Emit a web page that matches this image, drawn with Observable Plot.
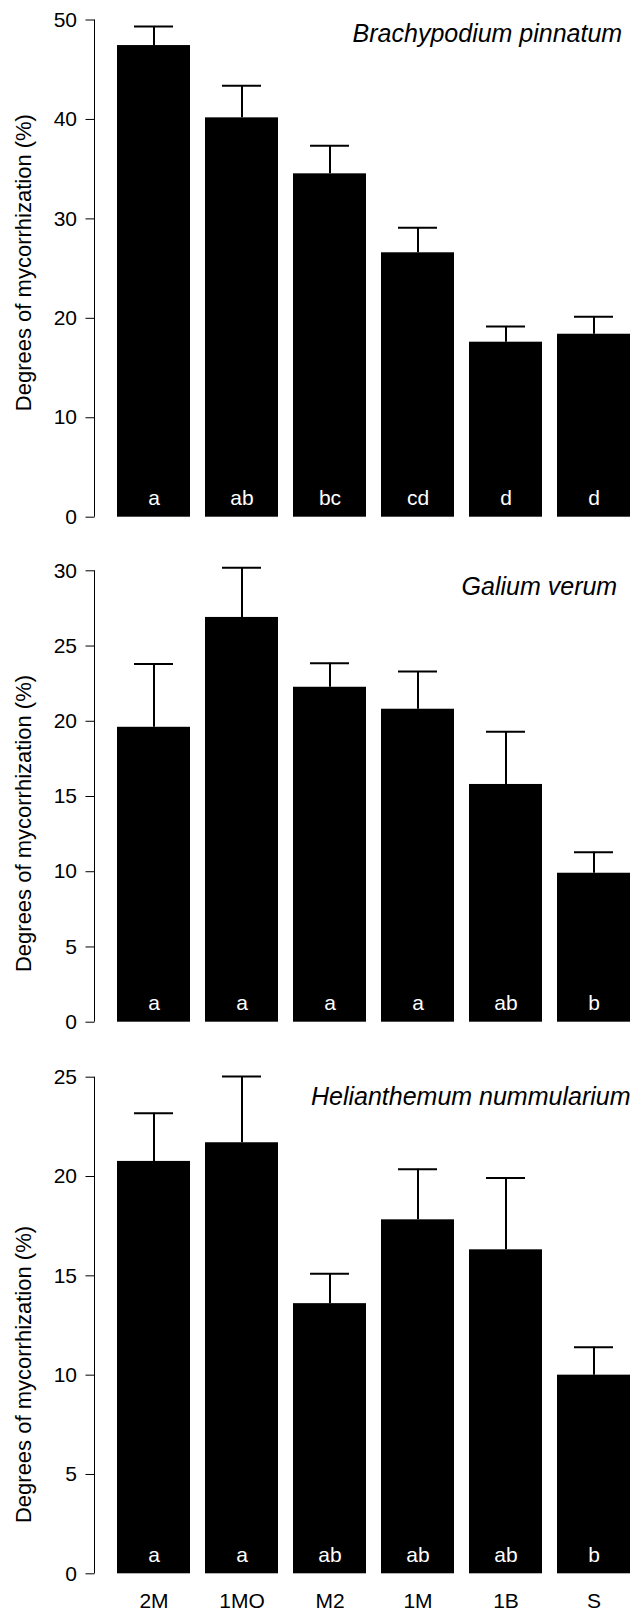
<!DOCTYPE html>
<html>
<head>
<meta charset="utf-8">
<script src="https://cdn.jsdelivr.net/npm/d3@7"></script>
<script src="https://cdn.jsdelivr.net/npm/@observablehq/plot@0.6"></script>
<style>
  html, body { margin: 0; padding: 0; background: white; }
  #chart svg { display: block; }
</style>
</head>
<body>
<div id="chart"></div>
<script>
// Treatments (x categories)
const groups = ["2M", "1MO", "M2", "1M", "1B", "S"];

// Brachypodium pinnatum
const brachyMean = [47.43, 40.16, 34.53, 26.59, 17.60, 18.40];
const brachySE = [1.92, 3.22, 2.82, 2.51, 1.58, 1.75];
const brachyLetters = ["a", "ab", "bc", "cd", "d", "d"];
const brachyTicks = [0, 10, 20, 30, 40, 50];

// Galium verum
const galiumMean = [19.6, 26.9, 22.26, 20.8, 15.8, 9.9];
const galiumSE = [4.2, 3.3, 1.6, 2.5, 3.5, 1.4];
const galiumLetters = ["a", "a", "a", "a", "ab", "b"];
const galiumTicks = [0, 5, 10, 15, 20, 25, 30];

// Helianthemum nummularium
const helianMean = [20.76, 21.70, 13.6, 17.82, 16.31, 10.0];
const helianSE = [2.43, 3.34, 1.5, 2.55, 3.61, 1.4];
const helianLetters = ["a", "a", "ab", "ab", "ab", "b"];
const helianTicks = [0, 5, 10, 15, 20, 25];

const yTitle = "Degrees of mycorrhization (%)";
const FONT = "'Liberation Sans', Arial, Helvetica, sans-serif";

function yAxisLine(ticks) {
  return (index, scales, values, dimensions) => {
    const x = dimensions.marginLeft;
    const line = document.createElementNS("http://www.w3.org/2000/svg", "line");
    line.setAttribute("x1", x);
    line.setAttribute("x2", x);
    line.setAttribute("y1", scales.y(ticks[0]));
    line.setAttribute("y2", scales.y(ticks[ticks.length - 1]));
    line.setAttribute("stroke", "black");
    line.setAttribute("stroke-width", 1);
    return line;
  };
}

function panel(o) {
  const data = groups.map((g, i) => ({
    group: g, mean: o.mean[i], upper: o.mean[i] + o.se[i], letter: o.letters[i]
  }));
  const marks = [
    Plot.barY(data, {x: "group", y: "mean", fill: "black"}),
    Plot.ruleX(data, {x: "group", y1: "mean", y2: "upper", stroke: "black", strokeWidth: 2}),
    Plot.tickY(data, {x: "group", y: "upper", stroke: "black", strokeWidth: 2, insetLeft: 17, insetRight: 17}),
    Plot.text(data, {x: "group", y: 0, text: "letter", fill: "white", dy: -19, lineAnchor: "middle", fontSize: "21px"}),
    Plot.axisY({ticks: o.ticks, tickSize: 9, tickPadding: 9, tickFormat: d => String(d), fontSize: "21px", label: null}),
    yAxisLine(o.ticks),
    Plot.text([o.title], {frameAnchor: "top-right", dx: o.titleDx, dy: o.titleDy, fontStyle: "italic", fontSize: "25px", textAnchor: "end", lineAnchor: "middle"}),
    Plot.text([yTitle], {frameAnchor: "left", dx: -71.5, dy: o.ylabDy, rotate: -90, fontSize: "22px", textAnchor: "middle", lineAnchor: "middle"})
  ];
  if (o.showX) marks.push(Plot.axisX({tickSize: 0, tickPadding: 19, fontSize: "21px", label: null}));
  return Plot.plot({
    width: 633,
    height: o.height,
    marginLeft: 94.5,
    marginRight: 0,
    marginTop: o.marginTop,
    marginBottom: o.marginBottom,
    style: {fontFamily: FONT, fontSize: "21px", background: "white", color: "black", overflow: "visible"},
    x: Object.assign({domain: groups, range: [115, 632.6], paddingInner: 0.1667, paddingOuter: 0, label: null}, o.showX ? {} : {axis: null}),
    y: {domain: [0, o.ticks[o.ticks.length - 1]], label: null},
    marks
  });
}

const chart = document.getElementById("chart");
chart.append(panel({
  mean: brachyMean, se: brachySE, letters: brachyLetters, ticks: brachyTicks,
  height: 545, marginTop: 19.5, marginBottom: 28.3,
  title: "Brachypodium pinnatum", titleDx: -11.3, titleDy: 13.8, ylabDy: -6, showX: false
}));
chart.append(panel({
  mean: galiumMean, se: galiumSE, letters: galiumLetters, ticks: galiumTicks,
  height: 515, marginTop: 25.3, marginBottom: 38.3,
  title: "Galium verum", titleDx: -16.3, titleDy: 16.4, ylabDy: 27, showX: false
}));
chart.append(panel({
  mean: helianMean, se: helianSE, letters: helianLetters, ticks: helianTicks,
  height: 553, marginTop: 16.7, marginBottom: 39.7,
  title: "Helianthemum nummularium", titleDx: -3, titleDy: 20, ylabDy: 49, showX: true
}));
</script>
</body>
</html>
